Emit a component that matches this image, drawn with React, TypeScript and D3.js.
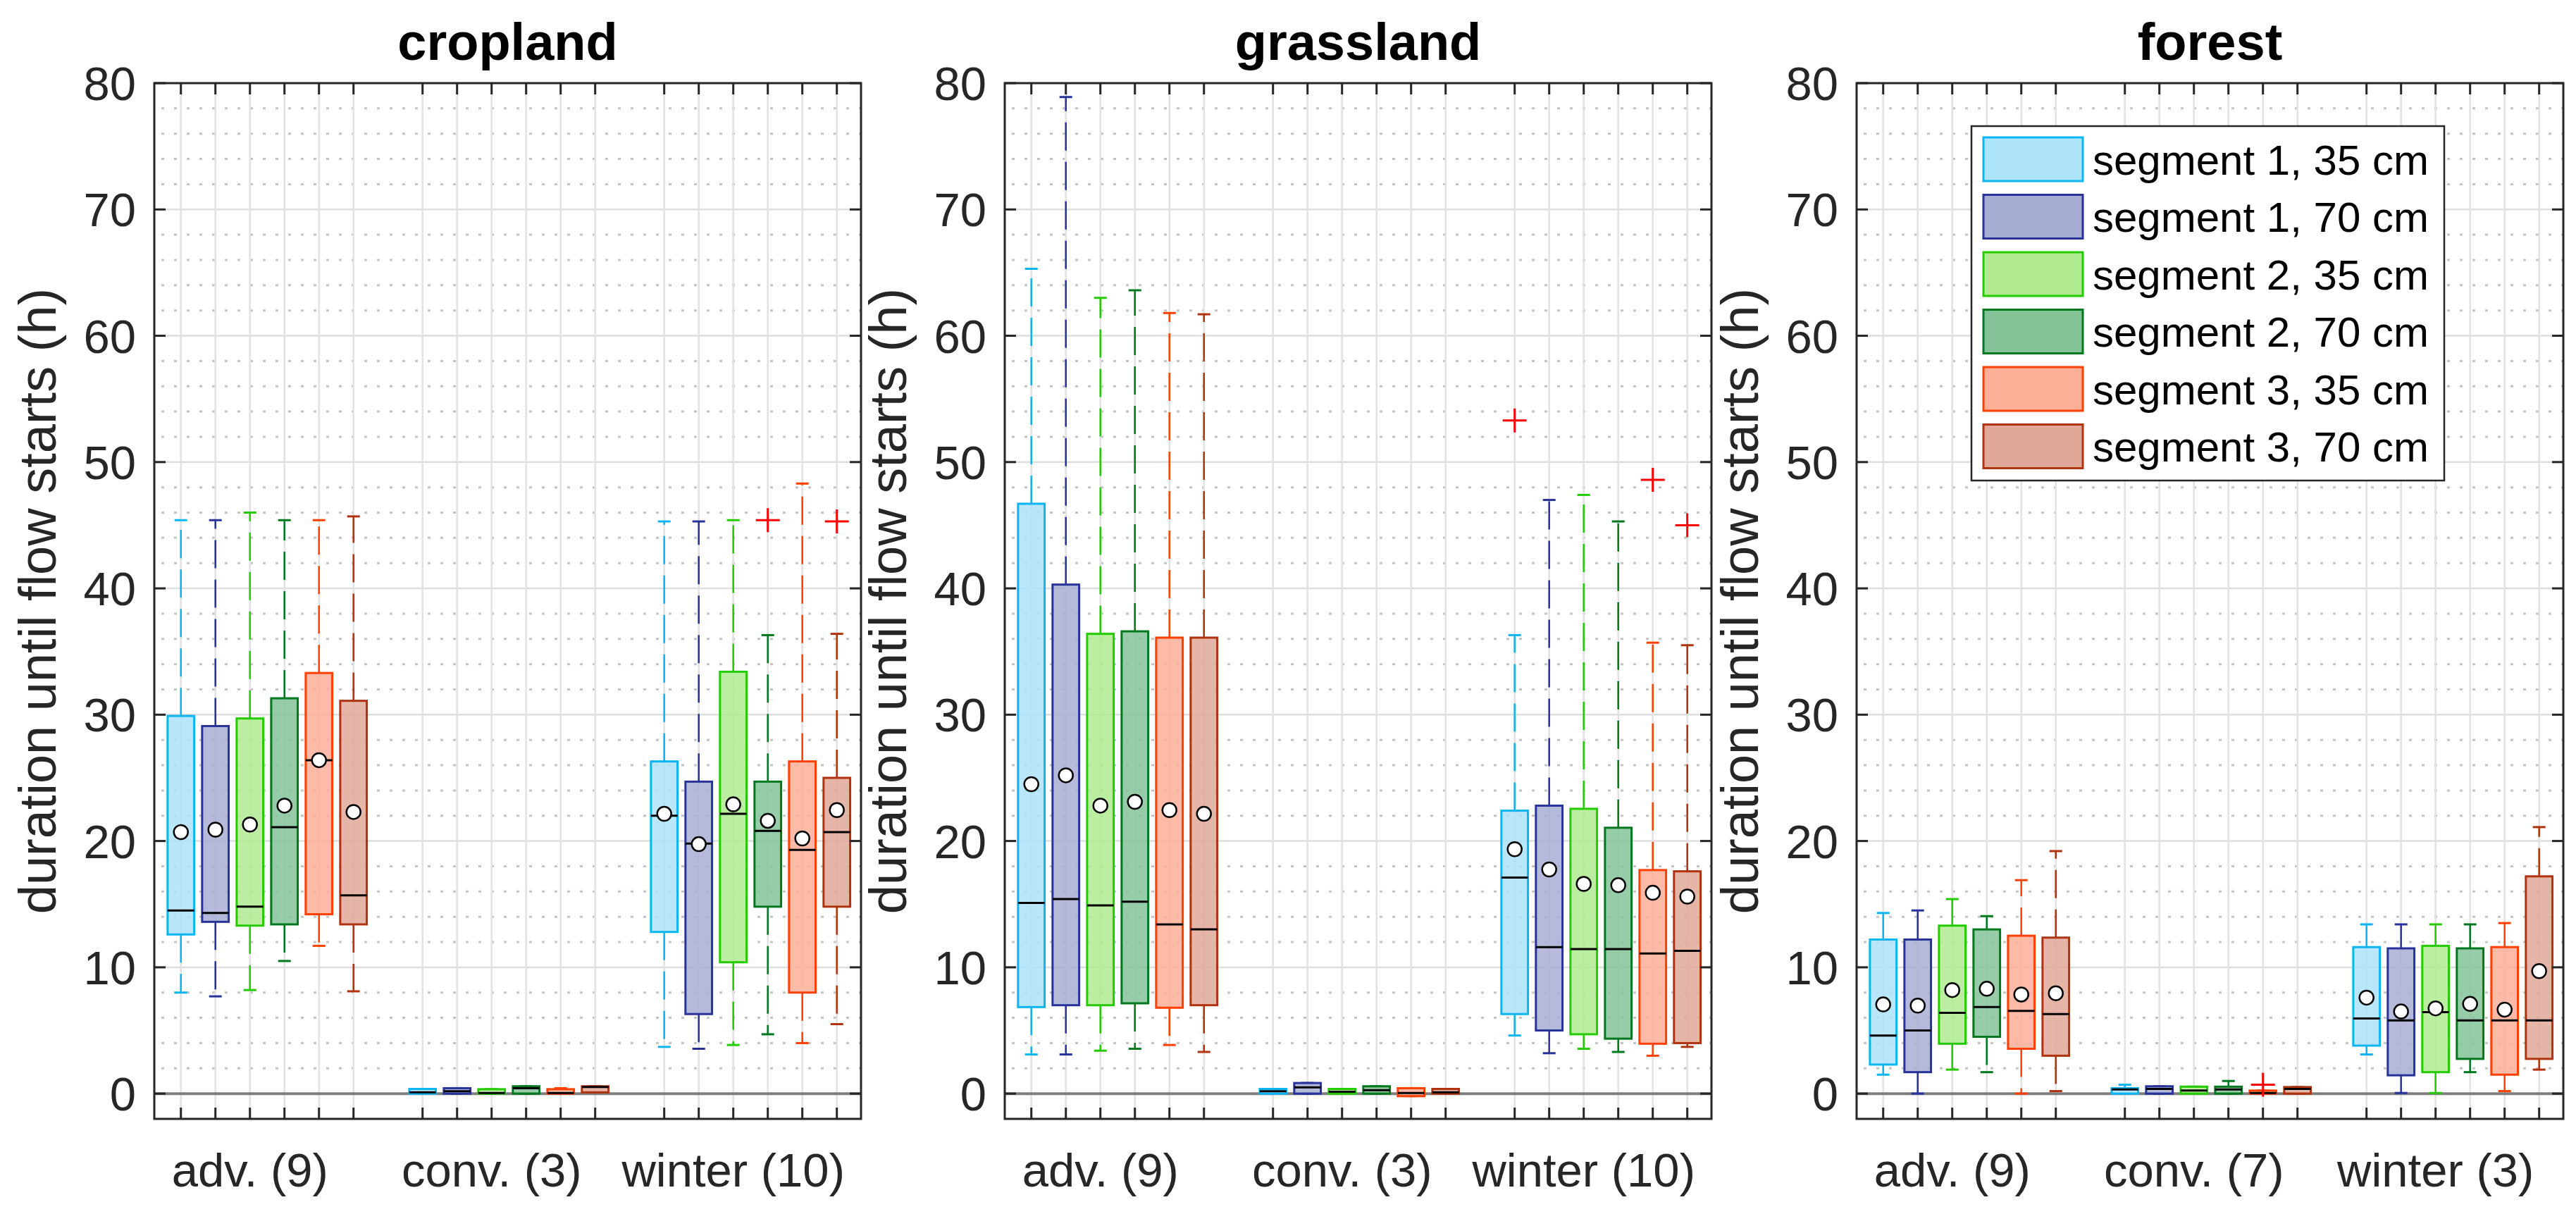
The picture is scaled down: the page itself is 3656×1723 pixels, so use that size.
import React, { useRef, useEffect } from "react";
import * as d3 from "d3";

const panelTitles = ["cropland", "grassland", "forest"];
const groupLabels = [
  ["adv. (9)", "conv. (3)", "winter (10)"],
  ["adv. (9)", "conv. (3)", "winter (10)"],
  ["adv. (9)", "conv. (7)", "winter (3)"],
];
const seriesNames = [
  "segment 1, 35 cm",
  "segment 1, 70 cm",
  "segment 2, 35 cm",
  "segment 2, 70 cm",
  "segment 3, 35 cm",
  "segment 3, 70 cm",
];
const edgeColors = ["#0BB5F2", "#27339A", "#22CC00", "#00781E", "#FF4000", "#B0320E"];
const fillColors = ["#ADE3F8", "#A8ADD4", "#B0EB92", "#84C398", "#FDAE96", "#E0A899"];

// per box: [lower whisker, q1, median, q3, upper whisker, mean]
// order: adv x6 series, conv x6, winter x6
const croplandStats: (number | null)[][] = [
  [8.0, 12.6, 14.5, 29.9, 45.4, 20.7],
  [7.7, 13.6, 14.3, 29.1, 45.4, 20.9],
  [8.2, 13.3, 14.8, 29.7, 46.0, 21.3],
  [10.5, 13.4, 21.1, 31.3, 45.4, 22.8],
  [11.7, 14.2, 26.4, 33.3, 45.4, 26.4],
  [8.1, 13.4, 15.7, 31.1, 45.7, 22.3],
  [0, 0, 0.1, 0.37, 0.37, null],
  [0, 0, 0.19, 0.43, 0.43, null],
  [0, 0, 0.05, 0.35, 0.35, null],
  [0, 0, 0.43, 0.58, 0.58, null],
  [0, 0, 0.05, 0.35, 0.43, null],
  [0.1, 0.1, 0.52, 0.58, 0.58, null],
  [3.7, 12.8, 22.0, 26.3, 45.3, 22.15],
  [3.55, 6.3, 19.8, 24.7, 45.3, 19.75],
  [3.85, 10.4, 22.15, 33.4, 45.4, 22.9],
  [4.7, 14.8, 20.8, 24.7, 36.3, 21.6],
  [4.0, 8.0, 19.3, 26.3, 48.3, 20.2],
  [5.5, 14.8, 20.7, 25.0, 36.4, 22.45],
];
const grasslandStats: (number | null)[][] = [
  [3.1, 6.85, 15.1, 46.7, 65.3, 24.5],
  [3.1, 7.0, 15.4, 40.3, 78.9, 25.2],
  [3.4, 7.0, 14.9, 36.4, 63.0, 22.8],
  [3.55, 7.15, 15.2, 36.6, 63.6, 23.1],
  [3.85, 6.8, 13.4, 36.1, 61.8, 22.45],
  [3.3, 7.0, 13.0, 36.1, 61.7, 22.15],
  [0, 0, 0.19, 0.37, 0.37, null],
  [0, 0, 0.5, 0.84, 0.84, null],
  [0, 0, 0.15, 0.37, 0.37, null],
  [0, 0, 0.28, 0.58, 0.58, null],
  [-0.2, -0.2, 0.05, 0.43, 0.43, null],
  [0, 0, 0.1, 0.37, 0.37, null],
  [4.6, 6.3, 17.1, 22.4, 36.3, 19.35],
  [3.2, 5.0, 11.6, 22.8, 47.0, 17.75],
  [3.55, 4.7, 11.45, 22.55, 47.4, 16.6],
  [3.3, 4.35, 11.45, 21.05, 45.3, 16.5],
  [3.0, 3.95, 11.1, 17.7, 35.7, 15.9],
  [3.7, 4.0, 11.3, 17.6, 35.5, 15.6],
];
const forestStats: (number | null)[][] = [
  [1.5, 2.3, 4.6, 12.2, 14.3, 7.06],
  [0, 1.7, 5.0, 12.2, 14.5, 6.97],
  [1.9, 3.95, 6.4, 13.3, 15.4, 8.2],
  [1.7, 4.5, 6.85, 13.0, 14.05, 8.3],
  [0, 3.55, 6.55, 12.5, 16.9, 7.85],
  [0.2, 3.0, 6.3, 12.35, 19.2, 7.95],
  [0, 0, 0.33, 0.43, 0.7, null],
  [0, 0, 0.37, 0.58, 0.58, null],
  [0, 0, 0.24, 0.55, 0.55, null],
  [0, 0, 0.33, 0.55, 1.0, null],
  [0, 0, 0.05, 0.24, 0.24, null],
  [0, 0, 0.37, 0.52, 0.52, null],
  [3.1, 3.8, 5.95, 11.6, 13.4, 7.6],
  [0.05, 1.45, 5.8, 11.5, 13.4, 6.5],
  [0.05, 1.7, 6.45, 11.7, 13.4, 6.75],
  [1.7, 2.75, 5.8, 11.5, 13.4, 7.1],
  [0.2, 1.5, 5.8, 11.6, 13.5, 6.65],
  [1.9, 2.75, 5.8, 17.2, 21.1, 9.7],
];
// [box index, value]
const croplandOutliers = [
  [15, 45.4],
  [17, 45.3],
];
const grasslandOutliers = [
  [12, 53.3],
  [16, 48.6],
  [17, 45.0],
];
const forestOutliers = [[10, 0.7]];

const panelStats = [croplandStats, grasslandStats, forestStats];
const panelOutliers = [croplandOutliers, grasslandOutliers, forestOutliers];

const W = 3656;
const H = 1723;
const panelLeft = [219, 1426, 2635];
const panelWidth = 1003;
const plotTop = 118;
const plotBottom = 1588;
const FONT = "'Liberation Sans', Arial, Helvetica, sans-serif";

// box index -> x position (gap of one slot between groups)
const boxPos = (i: number) => Math.floor(i / 6) * 7 + (i % 6) + 1;

export default function App() {
  const svgRef = useRef<SVGSVGElement>(null);

  useEffect(() => {
    if (!svgRef.current) return;
    const svg = d3.select(svgRef.current);
    svg.selectAll("*").remove();

    panelTitles.forEach((title, p) => {
      const left = panelLeft[p];
      const right = left + panelWidth;
      const x = d3.scaleLinear().domain([0.23, 20.7]).range([left, right]);
      const y = d3.scaleLinear().domain([-2, 80]).range([plotBottom, plotTop]);
      const stats = panelStats[p];
      const positions = stats.map((_, i) => boxPos(i));
      const g = svg.append("g");

      // minor grid (dotted)
      g.selectAll(".minor")
        .data(d3.range(2, 80, 2).filter((v) => v % 10 !== 0))
        .enter()
        .append("line")
        .attr("x1", left + 10)
        .attr("x2", right)
        .attr("y1", (d) => y(d))
        .attr("y2", (d) => y(d))
        .attr("stroke", "#c4c4c4")
        .attr("stroke-width", 3)
        .attr("stroke-dasharray", "4,14");

      // major grid
      g.selectAll(".majorY")
        .data(d3.range(10, 80, 10))
        .enter()
        .append("line")
        .attr("x1", left)
        .attr("x2", right)
        .attr("y1", (d) => y(d))
        .attr("y2", (d) => y(d))
        .attr("stroke", "#dedede")
        .attr("stroke-width", 2.5);
      g.selectAll(".majorX")
        .data(positions)
        .enter()
        .append("line")
        .attr("x1", (d) => x(d))
        .attr("x2", (d) => x(d))
        .attr("y1", plotTop)
        .attr("y2", plotBottom)
        .attr("stroke", "#e2e2e2")
        .attr("stroke-width", 2.5);

      // zero line
      g.append("line")
        .attr("x1", left)
        .attr("x2", right)
        .attr("y1", y(0))
        .attr("y2", y(0))
        .attr("stroke", "#7f7f7f")
        .attr("stroke-width", 4);

      const step = x(2) - x(1);
      const bw = step * 0.77;
      const capW = 18;

      stats.forEach((s, i) => {
        const [lo, q1, med, q3, hi, mean] = s as number[];
        const cx = x(positions[i]);
        const c = i % 6;
        const col = edgeColors[c];
        const b = g.append("g");
        // whiskers
        b.append("line")
          .attr("x1", cx).attr("x2", cx)
          .attr("y1", y(q3)).attr("y2", y(hi))
          .attr("stroke", col).attr("stroke-width", 2.5)
          .attr("stroke-dasharray", "40,16");
        b.append("line")
          .attr("x1", cx).attr("x2", cx)
          .attr("y1", y(q1)).attr("y2", y(lo))
          .attr("stroke", col).attr("stroke-width", 2.5)
          .attr("stroke-dasharray", "40,16");
        [lo, hi].forEach((v) =>
          b.append("line")
            .attr("x1", cx - capW / 2).attr("x2", cx + capW / 2)
            .attr("y1", y(v)).attr("y2", y(v))
            .attr("stroke", col).attr("stroke-width", 3)
        );
        // box
        b.append("rect")
          .attr("x", cx - bw / 2)
          .attr("y", y(q3))
          .attr("width", bw)
          .attr("height", Math.max(y(q1) - y(q3), 1))
          .attr("fill", fillColors[c])
          .attr("fill-opacity", 0.85)
          .attr("stroke", col)
          .attr("stroke-width", 3);
        // median
        b.append("line")
          .attr("x1", cx - bw / 2).attr("x2", cx + bw / 2)
          .attr("y1", y(med)).attr("y2", y(med))
          .attr("stroke", "#000").attr("stroke-width", 3);
        // mean
        if (mean !== null && mean !== undefined) {
          b.append("circle")
            .attr("cx", cx)
            .attr("cy", y(mean))
            .attr("r", 10)
            .attr("fill", "#fff")
            .attr("stroke", "#000")
            .attr("stroke-width", 2.5);
        }
      });

      // outliers
      panelOutliers[p].forEach(([i, v]) => {
        const cx = x(boxPos(i));
        const cy = y(v);
        g.append("path")
          .attr("d", `M${cx - 17},${cy}H${cx + 17}M${cx},${cy - 17}V${cy + 17}`)
          .attr("stroke", "#ff0000")
          .attr("stroke-width", 3)
          .attr("fill", "none");
      });

      // frame
      g.append("rect")
        .attr("x", left)
        .attr("y", plotTop)
        .attr("width", panelWidth)
        .attr("height", plotBottom - plotTop)
        .attr("fill", "none")
        .attr("stroke", "#262626")
        .attr("stroke-width", 3);

      // ticks
      const tickLen = 16;
      positions.forEach((d) => {
        g.append("line")
          .attr("x1", x(d)).attr("x2", x(d))
          .attr("y1", plotTop).attr("y2", plotTop + tickLen)
          .attr("stroke", "#262626").attr("stroke-width", 3);
        g.append("line")
          .attr("x1", x(d)).attr("x2", x(d))
          .attr("y1", plotBottom).attr("y2", plotBottom - tickLen)
          .attr("stroke", "#262626").attr("stroke-width", 3);
      });
      y.ticks(9)
        .filter((t) => t >= 0)
        .forEach((t) => {
          g.append("line")
            .attr("x1", left).attr("x2", left + tickLen)
            .attr("y1", y(t)).attr("y2", y(t))
            .attr("stroke", "#262626").attr("stroke-width", 3);
          g.append("line")
            .attr("x1", right).attr("x2", right - tickLen)
            .attr("y1", y(t)).attr("y2", y(t))
            .attr("stroke", "#262626").attr("stroke-width", 3);
          g.append("text")
            .attr("x", left - 26)
            .attr("y", y(t))
            .attr("dy", "0.36em")
            .attr("text-anchor", "end")
            .attr("font-family", FONT)
            .attr("font-size", 67)
            .attr("fill", "#262626")
            .text(String(t));
        });

      // group labels
      groupLabels[p].forEach((lab, k) => {
        g.append("text")
          .attr("x", x(k * 7 + 3))
          .attr("y", 1684)
          .attr("text-anchor", "middle")
          .attr("font-family", FONT)
          .attr("font-size", 67)
          .attr("fill", "#262626")
          .text(lab);
      });

      // title
      g.append("text")
        .attr("x", (left + right) / 2)
        .attr("y", 85)
        .attr("text-anchor", "middle")
        .attr("font-family", FONT)
        .attr("font-weight", "bold")
        .attr("font-size", 74)
        .attr("fill", "#000")
        .text(title);

      // y label
      const ly = (plotTop + plotBottom) / 2;
      g.append("text")
        .attr("transform", `translate(${left - 140},${ly}) rotate(-90)`)
        .attr("text-anchor", "middle")
        .attr("font-family", FONT)
        .attr("font-size", 74)
        .attr("fill", "#262626")
        .text("duration until flow starts (h)");
    });

    // legend inside forest panel
    const lx = 2798;
    const lyTop = 179;
    const rowH = 81.5;
    const leg = svg.append("g");
    leg.append("rect")
      .attr("x", lx)
      .attr("y", lyTop)
      .attr("width", 671)
      .attr("height", 503)
      .attr("fill", "#fff")
      .attr("stroke", "#262626")
      .attr("stroke-width", 2.5);
    seriesNames.forEach((name, i) => {
      const ry = lyTop + 16 + i * rowH;
      leg.append("rect")
        .attr("x", lx + 17)
        .attr("y", ry)
        .attr("width", 141)
        .attr("height", 62)
        .attr("fill", fillColors[i])
        .attr("stroke", edgeColors[i])
        .attr("stroke-width", 3);
      leg.append("text")
        .attr("x", lx + 172)
        .attr("y", ry + 31)
        .attr("dy", "0.36em")
        .attr("font-family", FONT)
        .attr("font-size", 60)
        .attr("fill", "#000")
        .text(name);
    });

    return () => {
      svg.selectAll("*").remove();
    };
  }, []);

  return (
    <div style={{ position: "absolute", left: 0, top: 0, background: "#fff" }}>
      <svg ref={svgRef} width={W} height={H} style={{ display: "block", background: "#fff" }}></svg>
    </div>
  );
}
